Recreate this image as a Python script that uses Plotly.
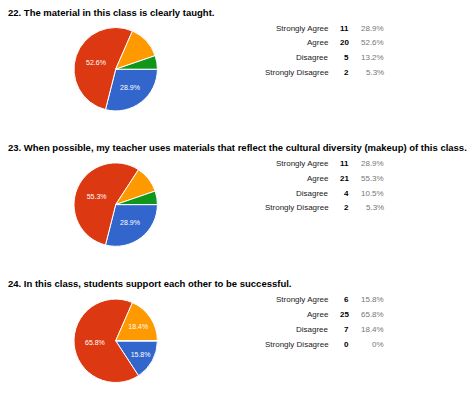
import plotly.graph_objects as go

W, H = 474, 393

categories = ["Strongly Agree", "Agree", "Disagree", "Strongly Disagree"]
titles = [
    "22. The material in this class is clearly taught.",
    "23. When possible, my teacher uses materials that reflect the cultural diversity (makeup) of this class.",
    "24. In this class, students support each other to be successful.",
]
counts_q22 = [11, 20, 5, 2]
counts_q23 = [11, 21, 4, 2]
counts_q24 = [6, 25, 7, 0]
pct_q22 = ["28.9%", "52.6%", "13.2%", "5.3%"]
pct_q23 = ["28.9%", "55.3%", "10.5%", "5.3%"]
pct_q24 = ["15.8%", "65.8%", "18.4%", "0%"]

counts_all = [counts_q22, counts_q23, counts_q24]
pcts_all = [pct_q22, pct_q23, pct_q24]

colors = ["#3366CC", "#DC3912", "#FF9900", "#109618"]

# layout (pixel positions)
offsets = [0, 135.4, 271.6]
pie_cx, pie_cy, pie_r = 115.7, 69.2, 41.7
title_y = 12
row_y0, row_dy = 28.2, 14.75
x_label, x_count, x_pct = 331, 351, 386

def px(x):
    return x / W

def py(y):
    return 1 - y / H

fig = go.Figure()
annotations = []
FONT = "Liberation Sans, Arial, Helvetica, sans-serif"

for i in range(3):
    off = offsets[i]
    vals = counts_all[i]
    total = sum(vals)
    text = [f"{v / total * 100:.1f}%" if v / total > 0.14 else "" for v in vals]
    cy = pie_cy + off
    fig.add_trace(go.Pie(
        labels=categories,
        values=vals,
        text=text,
        textinfo="text",
        textposition="inside",
        insidetextorientation="horizontal",
        textfont=dict(color="white", size=7, family=FONT),
        marker=dict(colors=colors, line=dict(color="white", width=1)),
        sort=False,
        direction="clockwise",
        rotation=90,
        hole=0,
        showlegend=False,
        domain=dict(x=[px(pie_cx - pie_r), px(pie_cx + pie_r)],
                    y=[py(cy + pie_r), py(cy - pie_r)]),
    ))
    annotations.append(dict(
        x=px(5.5), y=py(title_y + off), xref="paper", yref="paper",
        xanchor="left", yanchor="middle", showarrow=False,
        text=f"<b>{titles[i]}</b>",
        font=dict(size=9.5, color="#000000", family=FONT),
    ))
    for j, cat in enumerate(categories):
        yy = py(row_y0 + off + j * row_dy)
        annotations.append(dict(
            x=px(x_label), y=yy, xref="paper", yref="paper",
            xanchor="right", yanchor="middle", showarrow=False,
            text=cat, font=dict(size=8, color="#222222", family=FONT),
        ))
        annotations.append(dict(
            x=px(x_count), y=yy, xref="paper", yref="paper",
            xanchor="right", yanchor="middle", showarrow=False,
            text=f"<b>{counts_all[i][j]}</b>",
            font=dict(size=8, color="#000000", family=FONT),
        ))
        annotations.append(dict(
            x=px(x_pct), y=yy, xref="paper", yref="paper",
            xanchor="right", yanchor="middle", showarrow=False,
            text=pcts_all[i][j], font=dict(size=8, color="#777777", family=FONT),
        ))

fig.update_layout(
    width=W, height=H,
    margin=dict(l=0, r=0, t=0, b=0),
    paper_bgcolor="white", plot_bgcolor="white",
    annotations=annotations,
)

fig.write_html("out.html")
